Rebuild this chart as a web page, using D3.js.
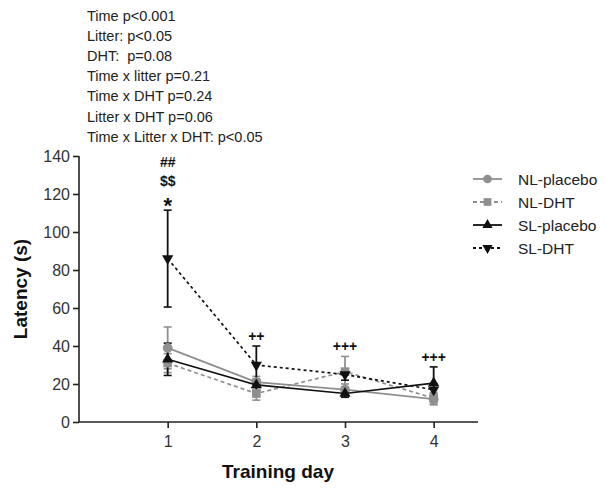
<!DOCTYPE html>
<html>
<head>
<meta charset="utf-8">
<script src="https://cdn.jsdelivr.net/npm/d3@7"></script>
<style>
  body { margin: 0; background: #fff; }
  svg { display: block; font-family: "Liberation Sans", Arial, sans-serif; }
</style>
</head>
<body>
<script>
// training days
const days = [1, 2, 3, 4];

// group means and SEM (latency, s)
const nlPlacebo = [39, 21, 17, 12];
const nlPlaceboErr = [11, 3, 3, 3];
const nlDht = [31, 15, 26.5, 12.5];
const nlDhtErr = [5, 3.5, 8, 3];
const slPlacebo = [33, 19.5, 15, 20.5];
const slPlaceboErr = [8.5, 3, 2, 8.5];
const slDht = [86, 30, 25, 17];
const slDhtErr = [25.5, 10, 3, 3];

const yTicks = [0, 20, 40, 60, 80, 100, 120, 140];

const statsLines = [
  "Time p<0.001",
  "Litter: p<0.05",
  "DHT:  p=0.08",
  "Time x litter p=0.21",
  "Time x DHT p=0.24",
  "Litter x DHT p=0.06",
  "Time x Litter x DHT: p<0.05"
];

// significance marks above the bars
const marks = [
  { day: 1, lines: ["##", "$$", "*"] },
  { day: 2, lines: ["++"] },
  { day: 3, lines: ["+++"] },
  { day: 4, lines: ["+++"] }
];

const series = [
  { name: "NL-placebo", values: nlPlacebo, err: nlPlaceboErr, color: "#8f8f8f", dash: null, symbol: "circle" },
  { name: "NL-DHT", values: nlDht, err: nlDhtErr, color: "#8f8f8f", dash: "4,3", symbol: "square" },
  { name: "SL-placebo", values: slPlacebo, err: slPlaceboErr, color: "#111", dash: null, symbol: "up" },
  { name: "SL-DHT", values: slDht, err: slDhtErr, color: "#111", dash: "3,3", symbol: "down" }
];

const width = 605, height = 489;
const marginLeft = 79, marginTop = 156, plotRight = 478, plotBottom = 422;

const svg = d3.select("body").append("svg")
  .attr("width", width)
  .attr("height", height);

const x = d3.scaleLinear().domain([0, 4.5]).range([marginLeft, plotRight]);
const y = d3.scaleLinear().domain([0, 140]).range([plotBottom, marginTop]);

// stats text block
svg.append("g")
  .selectAll("text")
  .data(statsLines)
  .join("text")
  .attr("x", 87)
  .attr("y", (d, i) => 21 + i * 20.1)
  .attr("font-size", 14.5)
  .attr("fill", "#222")
  .style("white-space", "pre")
  .text(d => d);

// axes
const yAxis = svg.append("g")
  .attr("transform", `translate(${marginLeft},0)`)
  .call(d3.axisLeft(y).tickValues(yTicks).tickSize(6).tickPadding(3));

const xAxis = svg.append("g")
  .attr("transform", `translate(0,${plotBottom})`)
  .call(d3.axisBottom(x).tickValues(days).tickSize(6).tickPadding(8).tickFormat(d3.format("d")));

[yAxis, xAxis].forEach(g => {
  g.select(".domain").attr("stroke", "#222").attr("stroke-width", 1.6);
  g.selectAll(".tick line").attr("stroke", "#222").attr("stroke-width", 1.6);
  g.selectAll(".tick text").attr("font-size", 16).attr("fill", "#333").attr("font-family", "Liberation Sans, Arial, sans-serif");
});
xAxis.select(".domain").attr("d", `M${marginLeft},0H${plotRight}`);
yAxis.select(".domain").attr("d", `M0,${plotBottom}V${marginTop}`);

// axis titles
svg.append("text")
  .attr("transform", `translate(27,${(marginTop + plotBottom) / 2}) rotate(-90)`)
  .attr("text-anchor", "middle")
  .attr("font-size", 19)
  .attr("font-weight", "bold")
  .attr("fill", "#111")
  .text("Latency (s)");

svg.append("text")
  .attr("x", 278)
  .attr("y", 478)
  .attr("text-anchor", "middle")
  .attr("font-size", 19)
  .attr("font-weight", "bold")
  .attr("fill", "#111")
  .text("Training day");

function symbolPath(sym, size) {
  if (sym === "circle") return d3.symbol(d3.symbolCircle, size)();
  if (sym === "square") return d3.symbol(d3.symbolSquare, size)();
  return d3.symbol(d3.symbolTriangle, size)();
}

const line = d3.line().x((d, i) => x(days[i])).y(d => y(d));

// error bars
series.forEach(s => {
  const g = svg.append("g");
  s.values.forEach((v, i) => {
    const cx = x(days[i]);
    const top = y(v + s.err[i]), bot = y(v - s.err[i]);
    g.append("line").attr("x1", cx).attr("x2", cx).attr("y1", top).attr("y2", bot)
      .attr("stroke", s.color).attr("stroke-width", 1.8);
    [top, bot].forEach(yy => g.append("line")
      .attr("x1", cx - 4).attr("x2", cx + 4).attr("y1", yy).attr("y2", yy)
      .attr("stroke", s.color).attr("stroke-width", 1.6));
  });
});

// lines and markers
series.forEach(s => {
  svg.append("path")
    .attr("d", line(s.values))
    .attr("fill", "none")
    .attr("stroke", s.color)
    .attr("stroke-width", 1.7)
    .attr("stroke-dasharray", s.dash);
  svg.append("g")
    .selectAll("path")
    .data(s.values)
    .join("path")
    .attr("transform", (d, i) => `translate(${x(days[i])},${y(d)})` + (s.symbol === "down" ? " rotate(180)" : ""))
    .attr("d", symbolPath(s.symbol, s.symbol === "square" || s.symbol === "circle" ? 75 : 55))
    .attr("fill", s.color);
});

// significance marks
marks.forEach(m => {
  const top = d3.max(series, s => s.values[m.day - 1] + s.err[m.day - 1]);
  const n = m.lines.length;
  m.lines.forEach((t, j) => {
    svg.append("text")
      .attr("x", x(m.day))
      .attr("y", y(top) - 5 - (n - 1 - j) * 19 + (t === "*" ? 8 : 0))
      .attr("text-anchor", "middle")
      .attr("font-size", t === "*" ? 22 : 14)
      .attr("font-weight", "bold")
      .attr("fill", "#111")
      .text(t);
  });
});

// legend
const legend = svg.append("g");
series.forEach((s, i) => {
  const ly = 179 + i * 23;
  legend.append("line")
    .attr("x1", 473).attr("x2", 502).attr("y1", ly).attr("y2", ly)
    .attr("stroke", s.color).attr("stroke-width", 1.8)
    .attr("stroke-dasharray", s.dash);
  legend.append("path")
    .attr("transform", `translate(487.5,${ly})` + (s.symbol === "down" ? " rotate(180)" : ""))
    .attr("d", symbolPath(s.symbol, s.symbol === "up" || s.symbol === "down" ? 45 : 60))
    .attr("fill", s.color);
  legend.append("text")
    .attr("x", 518)
    .attr("y", ly + 5.5)
    .attr("font-size", 15.5)
    .attr("fill", "#222")
    .text(s.name);
});
</script>
</body>
</html>
